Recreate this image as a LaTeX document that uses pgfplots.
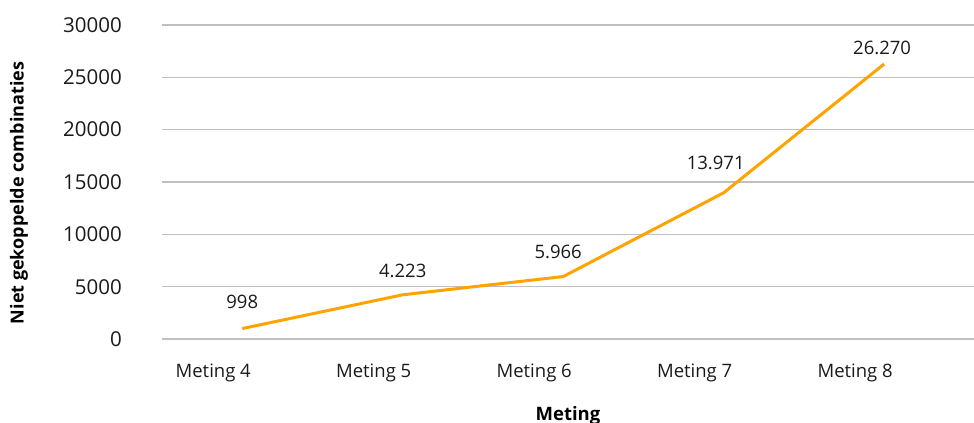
\documentclass[border=0pt]{standalone}
\usepackage{fontspec}
\setmainfont{Open Sans}
\usepackage{pgfplots}
\usepackage{pgfplotstable}
\pgfplotsset{compat=1.18}

\definecolor{lijn}{HTML}{FFA300}
\definecolor{raster}{HTML}{BFBFBF}
\definecolor{tekst}{HTML}{1A1A1A}

% x, waarde, label, verschuiving label
\pgfplotstableread{
x  y      lab     dx   dy
0  998    998     0    27
1  4223   4.223   0    24
2  5966   5.966   -5   25
3  13971  13.971  -8   30
4  26270  26.270  -2   16
}\metingen

\begin{document}
\begin{tikzpicture}
\begin{axis}[
    scale only axis,
    width=812bp, height=314bp,
    xmin=-0.5, xmax=4.56,
    ymin=0, ymax=30000,
    axis line style={draw=none},
    major tick length=0pt,
    xtick={0,1,2,3,4},
    xticklabels={Meting 4, Meting 5, Meting 6, Meting 7, Meting 8},
    ytick={0,5000,...,30000},
    scaled y ticks=false,
    ymajorgrids,
    grid style={raster, line width=1.2bp},
    /pgf/number format/assume math mode=true,
    /pgf/number format/1000 sep={},
    x tick label style={font=\fontsize{18.5bp}{22bp}\selectfont, text=tekst, anchor=center, inner sep=0pt, xshift=-29bp, yshift=-34bp},
    y tick label style={font=\fontsize{20.5bp}{24bp}\selectfont, text=tekst, anchor=east, inner sep=0pt, xshift=-40bp},
    xlabel={Meting},
    ylabel={Niet gekoppelde combinaties},
    xlabel style={font=\bfseries\fontsize{18.5bp}{22bp}\selectfont, text=black, at={(axis description cs:0.5,0)}, anchor=center, yshift=-77bp},
    ylabel style={font=\bfseries\fontsize{18bp}{21bp}\selectfont, text=black, at={(axis description cs:0,0.465)}, anchor=center, yshift=143bp},
    clip=false,
]
\addplot[lijn, line width=3bp, line join=round, mark=none,
    point meta=explicit symbolic,
    visualization depends on={\thisrow{dx} \as \ldx},
    visualization depends on={\thisrow{dy} \as \ldy},
    nodes near coords,
    nodes near coords style={font=\fontsize{18.5bp}{22bp}\selectfont, text=tekst, anchor=center, inner sep=0pt, xshift=\ldx bp, yshift=\ldy bp},
] table[x=x, y=y, meta=lab] {\metingen};
\end{axis}
\pgfresetboundingbox
\path (-162bp,-84bp) rectangle (812bp,339bp);
\end{tikzpicture}
\end{document}
